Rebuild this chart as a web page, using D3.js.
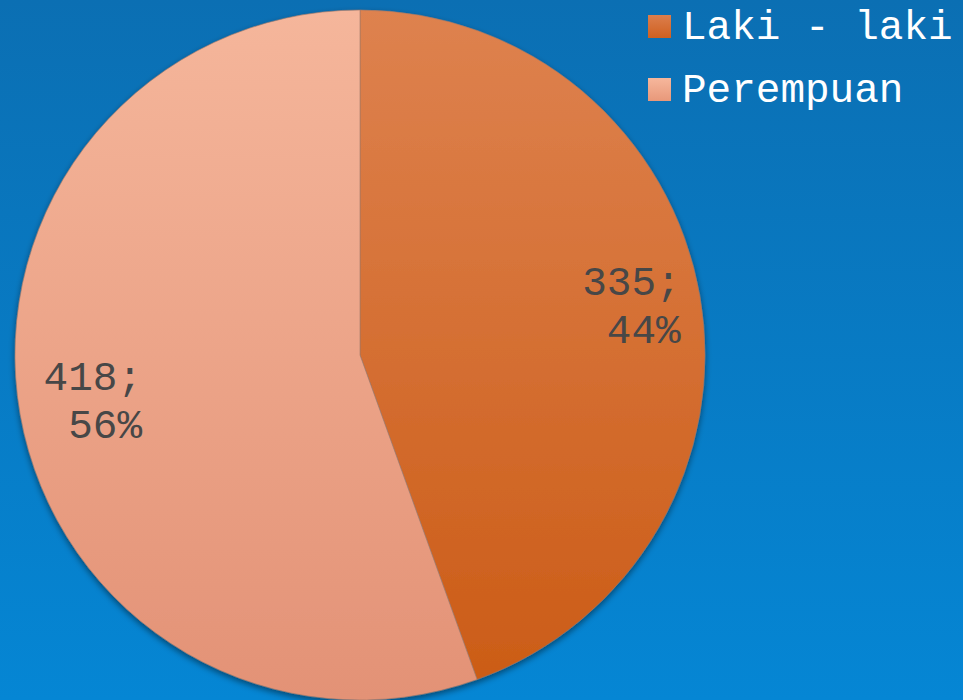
<!DOCTYPE html>
<html>
<head>
<meta charset="utf-8">
<script src="https://cdn.jsdelivr.net/npm/d3@7"></script>
<style>
  html, body { margin: 0; padding: 0; overflow: hidden; }
  text { font-family: "Courier New", "Liberation Mono", "DejaVu Sans Mono", monospace; }
</style>
</head>
<body>
<div id="chart"></div>
<script>
// data
var categories = ["Laki - laki", "Perempuan"];
var values = [335, 418];
var percents = ["44%", "56%"];

// colours: [top, bottom] of each slice gradient
var sliceColors = [["#de824f", "#cb5b15"], ["#f5b69b", "#e39276"]];
var swatchColors = [["#dc7e4c", "#cf6020"], ["#f6b79c", "#e8987a"]];

var width = 963, height = 700;
var cx = 360, cy = 355, radius = 345;
// where each label sits, as a share of the radius (best fit)
var labelPos = [0.835, 0.75];

var svg = d3.select("#chart").append("svg")
    .attr("width", width)
    .attr("height", height);

var defs = svg.append("defs");

// background gradient
var bg = defs.append("linearGradient")
    .attr("id", "bg")
    .attr("x1", 0).attr("y1", 0).attr("x2", 0).attr("y2", 1);
bg.append("stop").attr("offset", "0%").attr("stop-color", "#0b6fb3");
bg.append("stop").attr("offset", "100%").attr("stop-color", "#0586d4");

svg.append("rect")
    .attr("width", width)
    .attr("height", height)
    .attr("fill", "url(#bg)");

// slice gradients, spanning the whole pie vertically
sliceColors.forEach(function(c, i) {
    var g = defs.append("linearGradient")
        .attr("id", "slice" + i)
        .attr("gradientUnits", "userSpaceOnUse")
        .attr("x1", 0).attr("y1", -radius).attr("x2", 0).attr("y2", radius);
    g.append("stop").attr("offset", "0%").attr("stop-color", c[0]);
    g.append("stop").attr("offset", "100%").attr("stop-color", c[1]);
});
swatchColors.forEach(function(c, i) {
    var g = defs.append("linearGradient")
        .attr("id", "swatch" + i)
        .attr("x1", 0).attr("y1", 0).attr("x2", 0).attr("y2", 1);
    g.append("stop").attr("offset", "0%").attr("stop-color", c[0]);
    g.append("stop").attr("offset", "100%").attr("stop-color", c[1]);
});

// soft shadow under the pie
var shadow = defs.append("filter")
    .attr("id", "shadow")
    .attr("x", "-10%").attr("y", "-10%")
    .attr("width", "120%").attr("height", "120%");
shadow.append("feDropShadow")
    .attr("dx", 0).attr("dy", 3)
    .attr("stdDeviation", 3)
    .attr("flood-color", "#000")
    .attr("flood-opacity", 0.45);

var pie = d3.pie().sort(null).value(function(d) { return d; });
var arc = d3.arc().innerRadius(0).outerRadius(radius);
var arcs = pie(values);

var g = svg.append("g")
    .attr("transform", "translate(" + cx + "," + cy + ")");

g.append("g")
    .attr("filter", "url(#shadow)")
  .selectAll("path")
    .data(arcs)
    .enter().append("path")
    .attr("d", arc)
    .attr("fill", function(d, i) { return "url(#slice" + i + ")"; })
    .attr("stroke", "#a07868")
    .attr("stroke-opacity", 0.6)
    .attr("stroke-width", 1);

// data labels "value; pct" on two lines
var labels = g.selectAll(".lbl")
    .data(arcs)
    .enter().append("text")
    .attr("class", "lbl")
    .attr("transform", function(d, i) {
        var a = (d.startAngle + d.endAngle) / 2;
        var r = radius * labelPos[i];
        return "translate(" + (Math.sin(a) * r) + "," + (-Math.cos(a) * r) + ")";
    })
    .attr("text-anchor", "middle")
    .style("white-space", "pre")
    .attr("font-size", 41)
    .attr("fill", "#474747");

labels.append("tspan")
    .attr("x", 0)
    .attr("y", -10)
    .text(function(d, i) { return values[i] + "; "; });
labels.append("tspan")
    .attr("x", 0)
    .attr("y", 38)
    .text(function(d, i) { return percents[i]; });

// legend
var legend = svg.append("g")
    .attr("transform", "translate(648,15)");

var item = legend.selectAll(".item")
    .data(categories)
    .enter().append("g")
    .attr("class", "item")
    .attr("transform", function(d, i) { return "translate(0," + (i * 63) + ")"; });

item.append("rect")
    .attr("width", 23)
    .attr("height", 23)
    .attr("fill", function(d, i) { return "url(#swatch" + i + ")"; });

item.append("text")
    .attr("x", 34)
    .attr("y", 24)
    .attr("font-size", 41)
    .attr("fill", "#ffffff")
    .style("white-space", "pre")
    .text(function(d) { return d; });
</script>
</body>
</html>
